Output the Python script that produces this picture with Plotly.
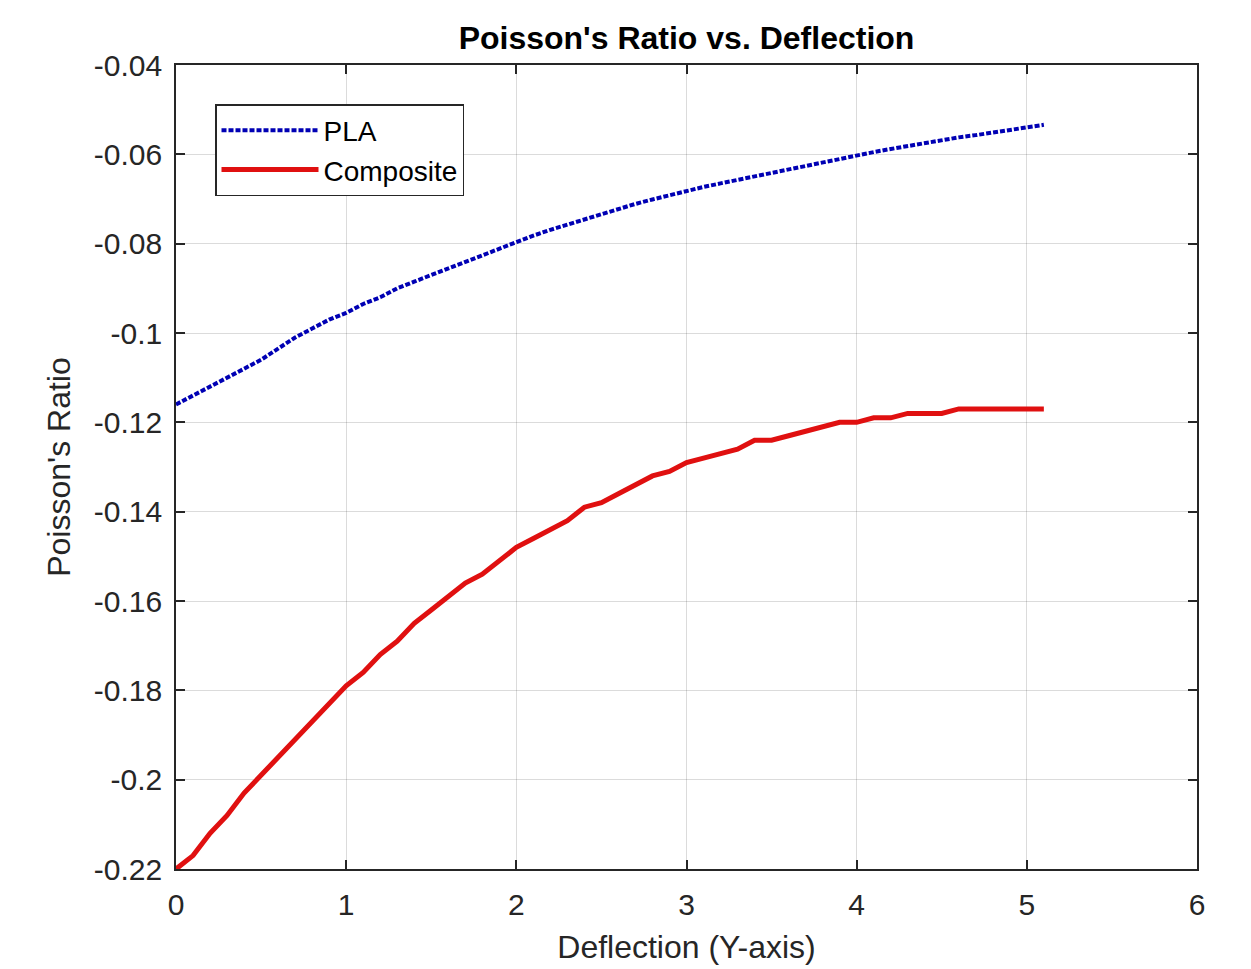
import plotly.graph_objects as go

deflection = [0.0, 0.1, 0.2, 0.3, 0.4, 0.5, 0.6, 0.7, 0.8, 0.9,
              1.0, 1.1, 1.2, 1.3, 1.4, 1.5, 1.6, 1.7, 1.8, 1.9,
              2.0, 2.1, 2.2, 2.3, 2.4, 2.5, 2.6, 2.7, 2.8, 2.9,
              3.0, 3.1, 3.2, 3.3, 3.4, 3.5, 3.6, 3.7, 3.8, 3.9,
              4.0, 4.1, 4.2, 4.3, 4.4, 4.5, 4.6, 4.7, 4.8, 4.9,
              5.0, 5.1]

pla = [-0.1160, -0.1140, -0.1120, -0.1100, -0.1080, -0.1060, -0.1035, -0.1010, -0.0990, -0.0970,
       -0.0955, -0.0935, -0.0920, -0.0900, -0.0885, -0.0870, -0.0855, -0.0840, -0.0825, -0.0810,
       -0.0795, -0.0782, -0.0769, -0.0757, -0.0745, -0.0733, -0.0722, -0.0711, -0.0701, -0.0691,
       -0.0681, -0.0673, -0.0665, -0.0657, -0.0650, -0.0643, -0.0635, -0.0627, -0.0618, -0.0609,
       -0.0601, -0.0595, -0.0588, -0.0581, -0.0575, -0.0568, -0.0562, -0.0557, -0.0551, -0.0546,
       -0.0540, -0.0534]

composite = [-0.220, -0.217, -0.212, -0.208, -0.203, -0.199, -0.195, -0.191, -0.187, -0.183,
             -0.179, -0.176, -0.172, -0.169, -0.165, -0.162, -0.159, -0.156, -0.154, -0.151,
             -0.148, -0.146, -0.144, -0.142, -0.139, -0.138, -0.136, -0.134, -0.132, -0.131,
             -0.129, -0.128, -0.127, -0.126, -0.124, -0.124, -0.123, -0.122, -0.121, -0.120,
             -0.120, -0.119, -0.119, -0.118, -0.118, -0.118, -0.117, -0.117, -0.117, -0.117,
             -0.117, -0.117]

x_ticks = [0, 1, 2, 3, 4, 5, 6]
x_ticktext = ["0", "1", "2", "3", "4", "5", "6"]
y_ticks = [-0.22, -0.20, -0.18, -0.16, -0.14, -0.12, -0.10, -0.08, -0.06, -0.04]
y_ticktext = ["-0.22", "-0.2", "-0.18", "-0.16", "-0.14", "-0.12", "-0.1", "-0.08", "-0.06", "-0.04"]

FONT = "Liberation Sans, Arial, sans-serif"
AXC = "#262626"

# page body has an 8px default margin; plot area in the page: x 176..1197, y 65..869
OFF = 8
L, R, T, B = 176 - OFF, 1197 - OFF, 65 - OFF, 869 - OFF
W, H = 1251, 969

fig = go.Figure()
fig.add_trace(go.Scatter(
    x=deflection, y=pla, mode="lines", name="PLA",
    line=dict(color="#0000B4", width=4, dash="5px,2px"),
))
fig.add_trace(go.Scatter(
    x=deflection, y=composite, mode="lines", name="Composite",
    line=dict(color="#E01010", width=5),
))

axis_common = dict(
    showgrid=True, gridcolor="rgba(0,0,0,0.14)", gridwidth=1,
    showline=True, linecolor=AXC, linewidth=1.5, mirror="ticks",
    ticks="inside", ticklen=9, tickwidth=1.5, tickcolor=AXC,
    tickfont=dict(family=FONT, size=30, color=AXC),
    zeroline=False,
)

fig.update_layout(
    width=W, height=H,
    paper_bgcolor="white", plot_bgcolor="white",
    margin=dict(l=L, r=W - R, t=T, b=H - B, autoexpand=False),
    title=dict(text="<b>Poisson's Ratio vs. Deflection</b>",
               font=dict(family=FONT, size=32, color="black"),
               x=(L + R) / 2 / W, xanchor="center",
               y=1 - (38 - OFF) / H, yanchor="middle"),
    xaxis=dict(range=[0, 6], tickvals=x_ticks, ticktext=x_ticktext,
               ticklabelstandoff=8,
               title=dict(text="Deflection (Y-axis)", standoff=16,
                          font=dict(family=FONT, size=32, color=AXC)),
               **axis_common),
    yaxis=dict(range=[-0.22, -0.04], tickvals=y_ticks, ticktext=y_ticktext,
               ticklabelstandoff=6,
               title=dict(text="Poisson's Ratio", standoff=14,
                          font=dict(family=FONT, size=32, color=AXC)),
               **axis_common),
    legend=dict(x=(215 - 176) / (1197 - 176), y=1 - (104 - 65) / (869 - 65),
                xanchor="left", yanchor="top",
                bgcolor="white", bordercolor=AXC, borderwidth=1.5,
                font=dict(family=FONT, size=28, color="black"),
                itemwidth=97, tracegroupgap=0),
    showlegend=True,
)

fig.write_html("out.html")
